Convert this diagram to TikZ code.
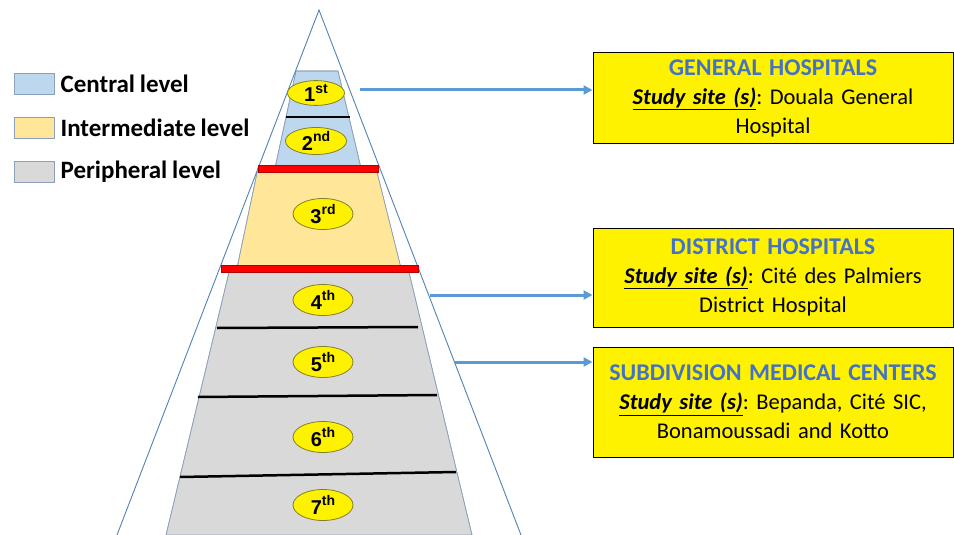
\documentclass[tikz,border=0pt]{standalone}
\usepackage{fontspec}
\setmainfont{Carlito}[WordSpace=0.85]
\newfontfamily\arialfont{Liberation Sans}
\usepackage{xcolor}
\usepackage{tikz}
\definecolor{centralblue}{RGB}{189, 215, 238}
\definecolor{interyellow}{RGB}{255, 230, 153}
\definecolor{periphgray}{RGB}{217, 217, 217}
\definecolor{titleblue}{RGB}{68, 114, 196}
\definecolor{arrowblue}{RGB}{91, 155, 213}
\definecolor{edgeblue}{RGB}{84, 130, 178}
\definecolor{bandedge}{RGB}{140, 160, 185}
\definecolor{ovaledge}{RGB}{128, 128, 40}
\usetikzlibrary{shapes.geometric, arrows.meta, positioning}
\newcommand{\lvlsup}[1]{\raisebox{0.42em}{\fontsize{14}{14}\selectfont #1}}
\newcommand{\sitetitle}[1]{{\color{titleblue}\bfseries\fontsize{24}{30}\selectfont #1}}
\frenchspacing

\begin{document}
\begin{tikzpicture}[
    x=1pt, y=-1pt,
    band/.style={draw=bandedge, line width=0.6pt},
    sepline/.style={draw=black, line width=2.5pt},
    redbar/.style={draw=red!70!black, fill=red, line width=0.5pt},
    level/.style={ellipse, draw=ovaledge, fill=yellow, line width=0.8pt,
                  minimum width=60pt, minimum height=31pt, inner sep=0pt,
                  font=\arialfont\bfseries\fontsize{20}{20}\selectfont},
    legendbox/.style={rectangle, draw=bandedge, line width=0.8pt,
                      minimum width=40pt, minimum height=21pt},
    legendtext/.style={inner sep=0pt, anchor=west,
                       font=\bfseries\fontsize{25}{25}\selectfont},
    sitebox/.style={rectangle, draw=black, fill=yellow, line width=1pt,
                    text width=354pt, minimum width=360pt, inner xsep=3pt,
                    inner ysep=0pt, align=center,
                    font=\fontsize{22.5}{29}\selectfont},
    arrowline/.style={-{Triangle[length=9pt, width=9pt]}, line width=3pt, arrowblue}
]
    \useasboundingbox[fill=white] (0,0) rectangle (954,535);

    % Legend
    \node[legendbox, fill=centralblue] (lgc) at (34,83.5) {};
    \node[legendtext, right=6pt of lgc] (lgctext) {Central level};
    \node[legendbox, fill=interyellow] (lgi) at (34,128) {};
    \node[legendtext, right=6pt of lgi] (lgitext) {Intermediate level};
    \node[legendbox, fill=periphgray] (lgp) at (34,171.5) {};
    \node[legendtext, right=6pt of lgp] (lgptext) {Peripheral level};

    % Levels of the pyramid
    \fill[band, fill=centralblue] (296,71) -- (338,71) -- (361,168) -- (275,168) -- cycle;
    \fill[band, fill=interyellow] (258,168) -- (376,168) -- (401,268) -- (237,268) -- cycle;
    \fill[band, fill=periphgray] (230,268) -- (408,268) -- (472,535) -- (166,535) -- cycle;
    \draw[band] (296,71) -- (338,71) -- (361,168) (275,168) -- (296,71);
    \draw[band] (376,168) -- (401,268) (237,268) -- (258,168);
    \draw[band] (408,268) -- (472,535) (166,535) -- (230,268);

    % Outer triangle
    \draw[edgeblue, line width=0.9pt] (117,535) -- (319,10) -- (521,535);

    % Separators
    \draw[sepline] (286,117) -- (350,117);
    \draw[sepline] (217,328) -- (418,327);
    \draw[sepline] (198,397) -- (437,395);
    \draw[sepline] (180,477) -- (456,472);
    \draw[redbar] (258,165) rectangle (378,172);
    \draw[redbar] (221,265) rectangle (418,272);

    % Level labels
    \node[level, minimum width=57pt, minimum height=21pt] (l1) at (316,93) {1\lvlsup{st}};
    \node[level, minimum width=61pt, minimum height=27pt] (l2) at (316,141) {2\lvlsup{nd}};
    \node[level] (l3) at (323,214) {3\lvlsup{rd}};
    \node[level] (l4) at (323,300) {4\lvlsup{th}};
    \node[level] (l5) at (323,362) {5\lvlsup{th}};
    \node[level] (l6) at (323,437) {6\lvlsup{th}};
    \node[level] (l7) at (323,505) {7\lvlsup{th}};

    % Study sites
    \node[sitebox, minimum height=90pt] (gh) at (773,98)
        {\sitetitle{GENERAL HOSPITALS}\\
         \underline{\bfseries\itshape Study site (s)}: Douala General\\ Hospital};
    \node[sitebox, minimum height=99pt] (dh) at (773,277.5)
        {\sitetitle{DISTRICT HOSPITALS}\\
         \underline{\bfseries\itshape Study site (s)}: Cité des Palmiers\\ District Hospital};
    \node[sitebox, minimum height=110pt] (smc) at (773,402)
        {\sitetitle{SUBDIVISION MEDICAL CENTERS}\\
         \underline{\bfseries\itshape Study site (s)}: Bepanda, Cité SIC,\\ Bonamoussadi and Kotto};

    % Arrows
    \coordinate (s1) at (360,90);
    \coordinate (s2) at (430,295);
    \coordinate (s3) at (455,362);
    \draw[arrowline] (s1) -- (s1 -| gh.west);
    \draw[arrowline] (s2) -- (s2 -| dh.west);
    \draw[arrowline] (s3) -- (s3 -| smc.west);
\end{tikzpicture}
\end{document}
